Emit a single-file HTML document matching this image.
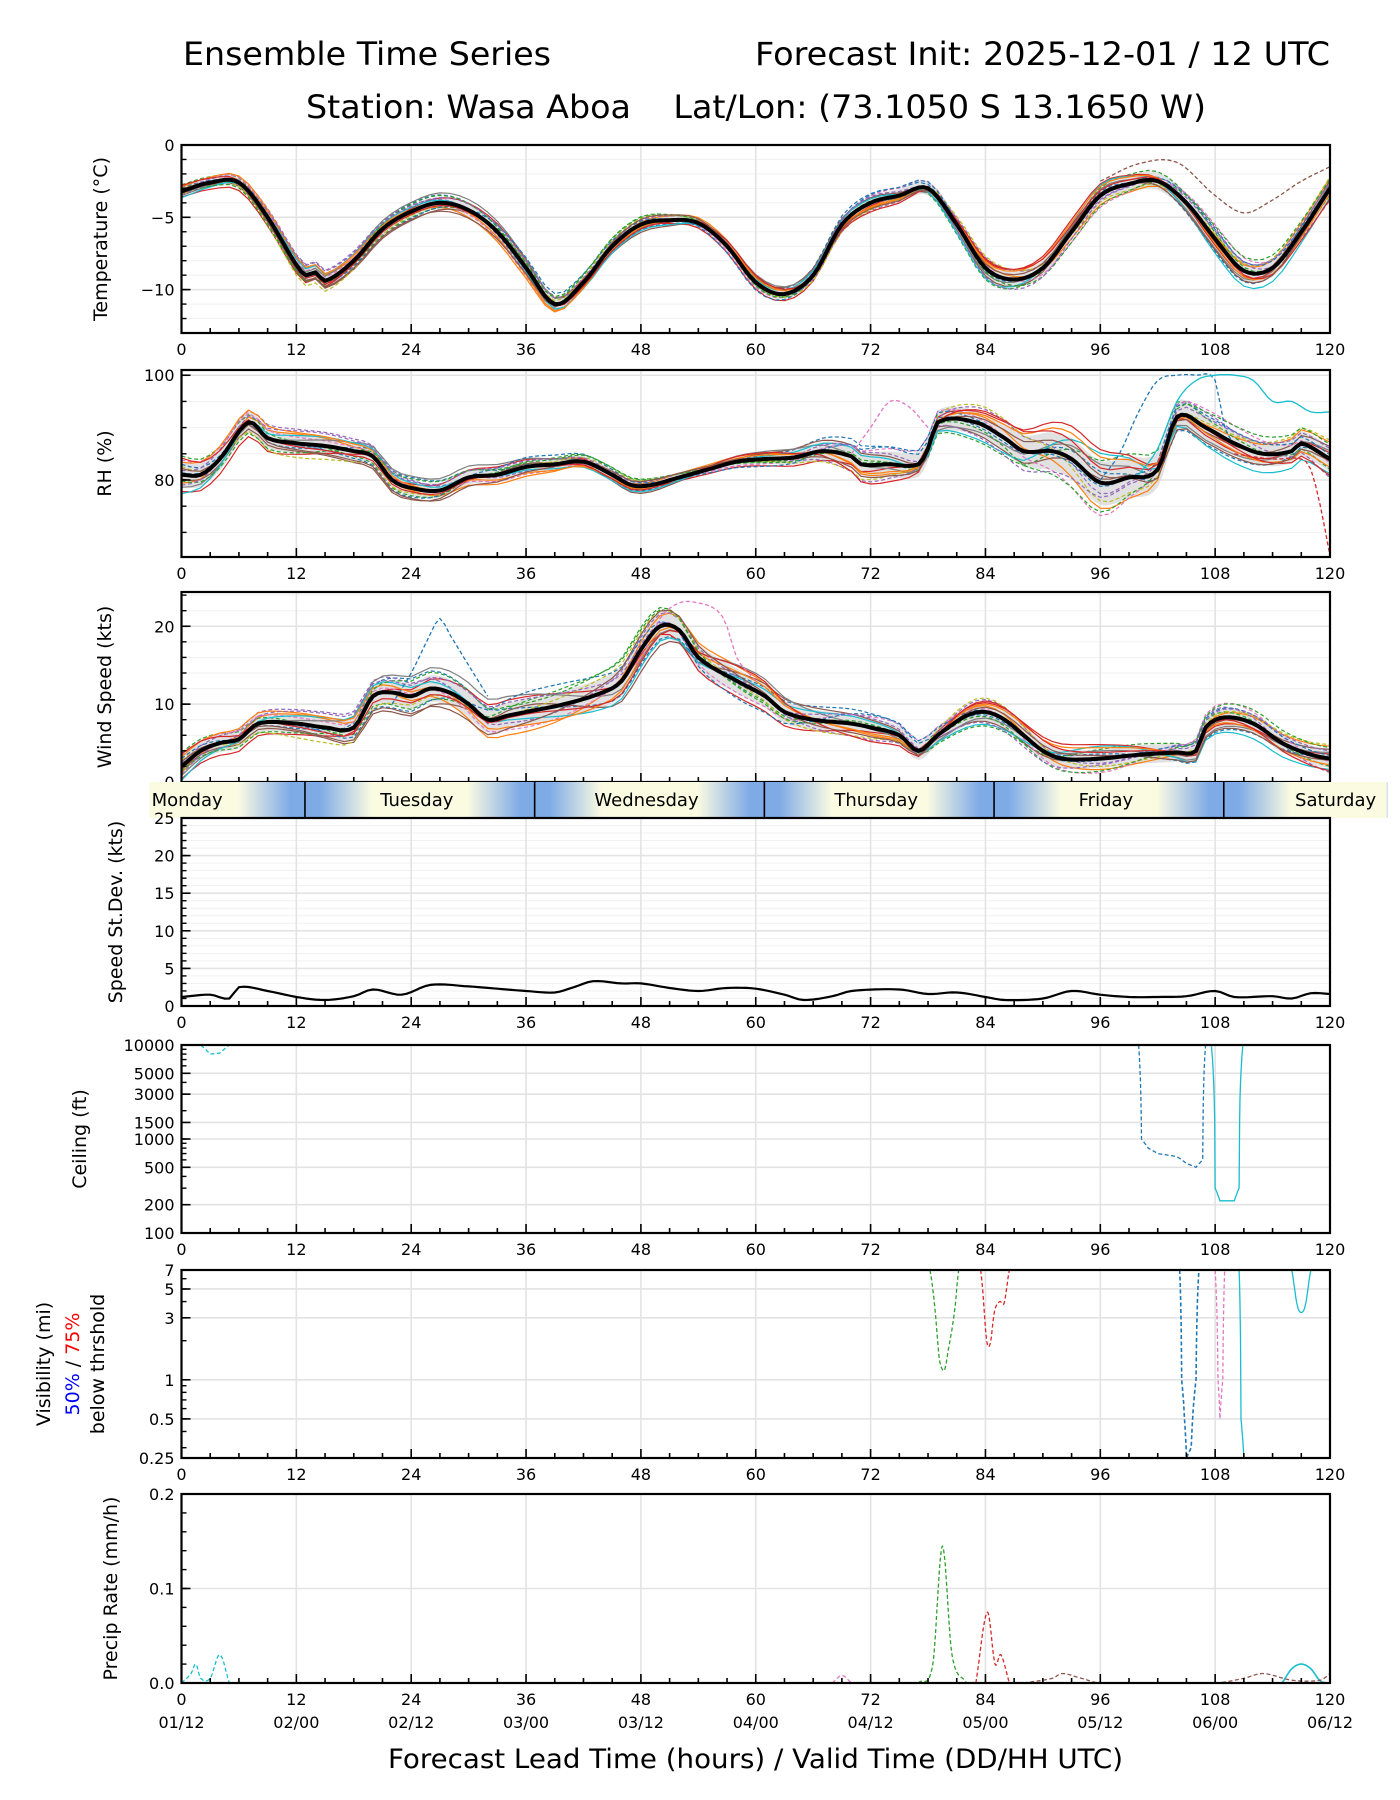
<!DOCTYPE html>
<html><head><meta charset="utf-8">
<style>
html,body{margin:0;padding:0;background:#fff;}
svg{display:block;font-family:"DejaVu Sans","Liberation Sans",sans-serif;}
</style></head>
<body>
<svg id="chart" width="1400" height="1800" viewBox="0 0 1400 1800" xmlns="http://www.w3.org/2000/svg">
<rect x="0" y="0" width="1400" height="1800" fill="#fff"/>
<text x="183" y="65" font-size="32" textLength="368" lengthAdjust="spacingAndGlyphs">Ensemble Time Series</text>
<text x="1330" y="65" font-size="32" text-anchor="end" textLength="575" lengthAdjust="spacingAndGlyphs">Forecast Init: 2025-12-01 / 12 UTC</text>
<text x="306" y="118" font-size="32" textLength="900" lengthAdjust="spacingAndGlyphs" xml:space="preserve">Station: Wasa Aboa    Lat/Lon: (73.1050 S 13.1650 W)</text>
<text x="388" y="1768" font-size="27" textLength="735" lengthAdjust="spacingAndGlyphs">Forecast Lead Time (hours) / Valid Time (DD/HH UTC)</text>
<g id="plots"></g>
</svg>
<script>
const NS="http://www.w3.org/2000/svg";
const X0=181.5, X1=1330;
const COLORS=["#1f77b4","#ff7f0e","#2ca02c","#d62728","#9467bd","#8c564b","#e377c2","#7f7f7f","#bcbd22","#17becf"];
const xTickHours=[0,12,24,36,48,60,72,84,96,108,120];
const dateLabels=["01/12","02/00","02/12","03/00","03/12","04/00","04/12","05/00","05/12","06/00","06/12"];
const knotHours=[0,12,24,36,48,60,72,84,96,108,120];
const tempHours=[0,3,6,9,12,13,14,15,18,21,24,27,30,33,36,39,42,45,48,51,54,57,60,63,66,69,72,75,78,81,84,87,90,93,96,99,102,105,108,111,114,117,120];
const tempMean=[-3.2,-2.6,-2.6,-5,-8.3,-9,-8.8,-9.4,-8,-5.8,-4.6,-4.0,-4.5,-6,-8.5,-11,-9.5,-7,-5.5,-5.2,-5.4,-7,-9.5,-10.3,-9,-5.5,-4,-3.5,-3,-5.5,-8.5,-9.3,-8.5,-6,-3.5,-2.7,-2.5,-4,-6.5,-8.7,-8.5,-6,-3];
const tempSpread=[0.5,0.8,0.7,0.8,0.6,0.6,0.7,0.9,0.9,1.1,0.9];
const rhHours=[0,2,4,7,9,12,15,18,20,22,24,27,30,33,36,39,42,45,47,49,52,55,58,61,64,67,70,71,74,77,78,79,83,86,88,91,93,96,99,102,104,107,110,113,116,117,120];
const rhMean=[81,81,84,91,88,87,86.5,85.5,84.5,80,78.5,78,80.5,81,82.5,83,83.5,81,79,79,80.5,82,83.5,84,84.3,85.5,84.5,83,83,83,86,91,91,88,85.5,85.5,84,79.5,80.5,82,92,90,87,85,85.5,87,84];
const rhSpread=[4,3,2.5,2,1.5,1.5,4,4,7,4,4];
const windHours=[0,2,4,6,8,12,15,18,20,22,24,26,28,30,32,34,36,40,44,46,48,50,52,54,58,61,63,66,70,72,75,77,79,82,84,86,88,90,92,96,100,104,106,107,109,112,115,118,120];
const windMean=[2,4,5,5.5,7.5,7.5,7,7,11,11.5,11,12,11.5,10,8,8.5,9,10,11.5,13,17,20,19.5,16,13,11,9,8,7.5,7,6,4,6,8.5,9,8,6,4,3,3,3.5,3.8,4,7,8.3,7.5,5,3.5,3];
const windSpread=[2,2,2.8,2.8,3.2,2.5,2,2,2,2,2];
const sdHours=[0,3,5,6,9,12,15,18,20,23,26,30,33,36,39,41,43,46,48,51,54,57,60,63,65,68,70,75,78,81,84,86,90,93,96,99,102,105,108,110,114,116,118,120];
const sdVals=[1.2,1.5,1,2.5,2,1.2,0.8,1.3,2.2,1.5,2.8,2.6,2.3,2.0,1.8,2.5,3.3,3.0,3.0,2.4,2.0,2.4,2.3,1.5,0.8,1.3,2.0,2.2,1.6,1.8,1.2,0.8,1.0,2.0,1.5,1.2,1.2,1.3,2.0,1.2,1.3,1.0,1.7,1.6];
const memberShapes=[
[0.5,-0.3,0.8,0.2,-0.6,0.4,0.9,-0.2,0.3,-0.8,0.1],
[-0.4,0.6,-0.2,-0.9,0.3,0.7,-0.5,0.4,-0.7,0.2,0.8],
[0.9,0.1,-0.6,0.5,0.8,-0.3,0.2,-0.9,0.6,0.4,-0.5],
[-0.8,-0.7,0.3,0.7,-0.2,-0.8,-0.3,0.6,0.9,-0.4,0.3],
[0.2,0.9,0.6,-0.4,0.5,0.1,-0.8,0.8,-0.3,0.7,-0.9],
[-0.2,-0.5,-0.9,0.3,-0.9,0.6,0.5,-0.6,0.1,-0.2,0.6],
[0.7,0.4,0.1,-0.7,0.1,-0.6,0.7,0.2,-0.9,0.9,-0.2],
[-0.6,0.2,0.9,0.8,-0.4,0.9,-0.1,-0.4,0.5,-0.6,0.4],
[0.4,-0.9,-0.4,0.1,0.7,-0.2,-0.7,0.9,-0.5,0.3,0.9],
[-0.9,0.5,0.4,-0.3,-0.7,0.3,0.4,-0.8,0.8,-0.9,-0.7],
[0.1,-0.1,-0.7,0.9,0.4,-0.9,0.8,0.1,-0.1,0.6,0.2],
[0.6,0.7,0.2,-0.6,-0.3,0.5,-0.4,0.5,0.7,-0.3,-0.4],
[-0.3,-0.6,0.7,0.4,0.9,-0.4,0.1,-0.3,-0.8,0.8,0.7],
[0.8,-0.2,-0.3,-0.1,-0.5,0.8,-0.9,0.7,0.4,-0.1,-0.8],
[-0.5,0.8,0.5,0.6,0.2,-0.1,0.6,-0.7,-0.4,0.5,0.5],
[0.3,-0.4,-0.8,-0.5,0.6,0.2,-0.6,0.3,0.2,-0.7,-0.1]];
const tempOutHours=[96,100,104,108,111,114,117,120];
const tempOutVals=[-2.5,-1.3,-1.2,-3.5,-4.7,-3.8,-2.5,-1.5];
const rhBlueHours=[96,98,100,102,104,106,108,109,110];
const rhBlueVals=[80,85,93,99,100,100,99,90,87];
const rhCyanHours=[100,102,104,106,108,110,112,114,116,118,120];
const rhCyanVals=[81,86,95,99,100,100,99,95,95,93,93];
const rhRedHours=[110,114,117,118,119,120];
const rhRedVals=[85,84,84,82,75,65.5];
const rhPinkHours=[70,72,74,76,78];
const rhPinkVals=[85,90,95,94,90];
const windBlueHours=[22,24,26,27,28,30,32];
const windBlueVals=[10,14,19,21,19,15,11];
const windPinkHours=[44,48,50,52,54,56,57,58,60];
const windPinkVals=[11,16,21,23,23,22,20,16,13];
const ceilCyanDHours=[0,2,3,4,5];
const ceilCyanDVals=[10000,10000,8000,8200,10000];
const ceilBlueHours=[100,100.3,101,102,104,105,106,106.7,107];
const ceilBlueVals=[10000,1000,800,700,650,550,500,600,10000];
const ceilCyanHours=[107.6,108,108.5,110,110.5,110.9];
const ceilCyanVals=[10000,300,220,220,300,10000];
const visGreenHours=[78.2,79,79.5,80,80.8,81.2];
const visGreenVals=[7,2,1.2,1.5,3.5,7];
const visRedHours=[83.5,84,84.5,85,85.5,86,86.5];
const visRedVals=[7,2.5,1.9,3.5,4,4,7];
const visBlueHours=[104.3,104.5,104.8,105,105.5,106,106.3];
const visBlueVals=[7,1,0.5,0.25,0.3,1,7];
const visPinkHours=[108,108.3,108.5,108.8,109];
const visPinkVals=[7,1,0.5,1,7];
const visCyanHours=[110.5,110.7,111];
const visCyanVals=[7,0.5,0.25];
const visCyan2Hours=[116,116.5,117,117.5,118];
const visCyan2Vals=[7,4,3.3,4,7];
const prGreenHours=[77,78.5,79.5,80.5,82];
const prGreenVals=[0,0.02,0.145,0.03,0];
const prRedHours=[83,84.2,85,85.6,86.5];
const prRedVals=[0,0.075,0.02,0.03,0];
const prCyanDHours=[0,1,1.5,2,3,4,5];
const prCyanDVals=[0,0.01,0.02,0.005,0.005,0.03,0];
const prCyanHours=[115,116,117,118,119,120];
const prCyanVals=[0,0.015,0.02,0.015,0.002,0];
const prBrownHours=[88,91,92,94,96,108,111,113,116,119,120];
const prBrownVals=[0,0.005,0.01,0.005,0,0,0.005,0.01,0.003,0.003,0.01];
const prPinkHours=[68,69,70];
const prPinkVals=[0,0.008,0];
const dayNames=["Monday","Tuesday","Wednesday","Thursday","Friday","Saturday"];

const g=document.getElementById('plots');
function el(tag,attrs,parent){const e=document.createElementNS(NS,tag);for(const k in attrs)e.setAttribute(k,attrs[k]);(parent||g).appendChild(e);return e;}
function xs(h){return X0+(h/120)*(X1-X0);}
function interp(hs,vs,h){if(h<=hs[0])return vs[0];for(let i=1;i<hs.length;i++){if(h<=hs[i]){const t=(h-hs[i-1])/(hs[i]-hs[i-1]);return vs[i-1]+t*(vs[i]-vs[i-1]);}}return vs[vs.length-1];}
function sinterp(hs,vs,h){const n=hs.length;if(h<=hs[0])return vs[0];if(h>=hs[n-1])return vs[n-1];
  let i=1;while(h>hs[i])i++;const h0=hs[i-1],h1=hs[i],p1=vs[i-1],p2=vs[i];const dh=h1-h0;const t=(h-h0)/dh;
  const m1=i-2>=0?(p2-vs[i-2])/(h1-hs[i-2])*dh:(p2-p1);const m2=i+1<n?(vs[i+1]-p1)/(hs[i+1]-h0)*dh:(p2-p1);
  const t2=t*t,t3=t2*t;return (2*t3-3*t2+1)*p1+(t3-2*t2+t)*m1+(-2*t3+3*t2)*p2+(t3-t2)*m2;}
function lin(min,max,top,bot){return v=>bot-(v-min)/(max-min)*(bot-top);}
function logs(min,max,top,bot){return v=>bot-(Math.log10(v)-Math.log10(min))/(Math.log10(max)-Math.log10(min))*(bot-top);}

function axes(name,top,bot,ys,majors,majorLabels,minors,gridMinor,label,dates){
  const ga=el('g',{});
  
  
  (gridMinor||[]).forEach(v=>{const y=ys(v);el('line',{x1:X0,x2:X1,y1:y,y2:y,stroke:'#f1f1f1','stroke-width':1},ga);});
  majors.forEach(v=>{const y=ys(v);el('line',{x1:X0,x2:X1,y1:y,y2:y,stroke:'#e3e3e3','stroke-width':1.6},ga);});
  xTickHours.forEach(h=>{el('line',{x1:xs(h),x2:xs(h),y1:top,y2:bot,stroke:'#e3e3e3','stroke-width':1.6},ga);});
  return function finish(){
    const gf=el('g',{});
    
    
    for(let h=0;h<=120;h+=3){const L=h%12===0?9:5;el('line',{x1:xs(h),x2:xs(h),y1:bot,y2:bot-L,stroke:'#000','stroke-width':1.6},gf);}
    (minors||[]).forEach(v=>{const y=ys(v);el('line',{x1:X0,x2:X0+5,y1:y,y2:y,stroke:'#000','stroke-width':1.4},gf);});
    majors.forEach((v,i)=>{const y=ys(v);el('line',{x1:X0,x2:X0+9,y1:y,y2:y,stroke:'#000','stroke-width':1.6},gf);
      const t=el('text',{x:X0-7,y:y+6,'font-size':16,'text-anchor':'end'},gf);t.textContent=majorLabels[i];});
    el('rect',{x:X0,y:top,width:X1-X0,height:bot-top,fill:'none',stroke:'#000','stroke-width':2.2},gf);
    xTickHours.forEach((h,i)=>{const t=el('text',{x:xs(h),y:bot+22,'font-size':16,'text-anchor':'middle'},gf);t.textContent=h;
      if(dates){const d=el('text',{x:xs(h),y:bot+45,'font-size':16,'text-anchor':'middle'},gf);d.textContent=dateLabels[i];}});
    if(label){label.forEach(([txt,x])=>{const cy=(top+bot)/2;const t=el('text',{x:x,y:cy,'font-size':19,'text-anchor':'middle',transform:`rotate(-90 ${x} ${cy})`},gf);
      if(Array.isArray(txt)){txt.forEach(([s,c])=>{const sp=el('tspan',{fill:c},t);sp.textContent=s;});}else t.textContent=txt;});}
  };
}
function clipFor(id,top,bot){const cp=el('clipPath',{id:id});el('rect',{x:X0,y:top,width:X1-X0,height:bot-top},cp);return `url(#${id})`;}
function trace(parent,name,hs,vs,ys,color,dashed,width,step,smooth){
  const f=smooth?sinterp:interp;
  const pts=[];const h0=hs[0],h1=hs[hs.length-1];step=step||0.5;
  for(let h=h0;h<=h1+1e-9;h+=step)pts.push(xs(h).toFixed(1)+','+ys(f(hs,vs,h)).toFixed(1));
  const p=el('polyline',{points:pts.join(' '),fill:'none',stroke:color,'stroke-width':width||1.3,'stroke-dasharray':dashed?'4 2.5':'none','stroke-linejoin':'round'},parent);
  
  
  return p;
}
function ensemblePanel(name,top,bot,ys,hs,mean,spread){
  const cg=el('g',{'clip-path':clipFor(name+'-clip',top,bot)});
  
  
  const up=[],dn=[];
  for(let h=0;h<=120;h+=0.5){const m=sinterp(hs,mean,h),s=sinterp(knotHours,spread,h)*0.6;up.push(xs(h).toFixed(1)+','+ys(m+s).toFixed(1));dn.unshift(xs(h).toFixed(1)+','+ys(m-s).toFixed(1));}
  const band=el('polygon',{points:up.concat(dn).join(' '),fill:'#d9d9d9','fill-opacity':0.8},cg);
  
  
  memberShapes.forEach((shape,m)=>{
    const mh=[],mv=[];
    for(let h=0;h<=120;h+=1){mh.push(h);mv.push(sinterp(hs,mean,h)+sinterp(knotHours,spread,h)*sinterp(knotHours,shape,h));}
    trace(cg,name+'-member-'+(m+1),mh,mv,ys,COLORS[m%10],m%2===0,1.2,1);
  });
  return cg;
}
function drawMean(cg,name,hs,vs,ys){trace(cg,name+'-mean-line',hs,vs,ys,'#000',false,4,0.5,true);}

(function(){const top=145,bot=333;const ys=lin(-13,0,top,bot);
  const minors=[];for(let v=-13;v<=0;v++)minors.push(v);
  const fin=axes('temperature',top,bot,ys,[0,-5,-10],['0','\u22125','\u221210'],minors,minors,[['Temperature (\u00b0C)',107]]);
  const cg=ensemblePanel('temperature',top,bot,ys,tempHours,tempMean,tempSpread);
  trace(cg,'temperature-outlier-member',tempOutHours,tempOutVals,ys,'#8c564b',true,1.3,0.5,true);
  drawMean(cg,'temperature',tempHours,tempMean,ys);fin();})();
(function(){const top=370,bot=557;const ys=lin(65.3,101,top,bot);
  const minors=[70,75,80,85,90,95,100];
  const fin=axes('rh',top,bot,ys,[80,100],['80','100'],minors,minors,[['RH (%)',111]]);
  const cg=ensemblePanel('rh',top,bot,ys,rhHours,rhMean,rhSpread);
  trace(cg,'rh-outlier-blue',rhBlueHours,rhBlueVals,ys,'#1f77b4',true,1.3,0.5,true);
  trace(cg,'rh-outlier-cyan',rhCyanHours,rhCyanVals,ys,'#17becf',false,1.3,0.5,true);
  trace(cg,'rh-outlier-red',rhRedHours,rhRedVals,ys,'#d62728',true,1.3,0.5,true);
  trace(cg,'rh-outlier-pink',rhPinkHours,rhPinkVals,ys,'#e377c2',true,1.3,0.5,true);
  drawMean(cg,'rh',rhHours,rhMean,ys);fin();})();
(function(){const top=592,bot=782;const ys=lin(0,24.4,top,bot);
  const minors=[];for(let v=0;v<=24;v+=2)minors.push(v);
  const fin=axes('wind-speed',top,bot,ys,[0,10,20],['0','10','20'],minors,minors,[['Wind Speed (kts)',111]]);
  const cg=ensemblePanel('wind-speed',top,bot,ys,windHours,windMean,windSpread);
  trace(cg,'wind-outlier-blue',windBlueHours,windBlueVals,ys,'#1f77b4',true,1.3,0.5,true);
  trace(cg,'wind-outlier-pink',windPinkHours,windPinkVals,ys,'#e377c2',true,1.3,0.5,true);
  drawMean(cg,'wind-speed',windHours,windMean,ys);fin();})();
(function(){const top=782,bot=818;
  const defs=el('defs',{});const lg=el('linearGradient',{id:'dayGrad',gradientUnits:'userSpaceOnUse',x1:xs(-3.4),x2:xs(126),y1:0,y2:0},defs);
  const span=129.4;const stops=[];
  for(let k=-1;k<=6;k++){const noon=0.9+24*k,mid=12.9+24*k;
    [[noon-5,'#fbfbe2'],[noon+5,'#fbfbe2'],[mid-1.5,'#7eaae6'],[mid+1.5,'#7eaae6']].forEach(s=>stops.push(s));}
  stops.sort((a,b)=>a[0]-b[0]).forEach(([h,c])=>{const o=(h+3.4)/span;if(o>=-0.2&&o<=1.2)el('stop',{offset:Math.max(0,Math.min(1,o)),'stop-color':c},lg);});
  const bg=el('g',{});
  el('rect',{x:xs(-3.4),y:top,width:xs(126)-xs(-3.4),height:bot-top,fill:'url(#dayGrad)'},bg);
  for(let k=0;k<5;k++){const x=xs(12.9+24*k);el('line',{x1:x,x2:x,y1:top,y2:bot,stroke:'#000','stroke-width':1.6},bg);}
  dayNames.forEach((d,i)=>{const t=el('text',{x:xs(0.9+24*i)-3,y:top+24,'font-size':18,'text-anchor':'middle'},bg);t.textContent=d;
    });
})();
(function(){const top=818,bot=1006;const ys=lin(0,25,top,bot);
  const minors=[];for(let v=0;v<=25;v++)minors.push(v);
  const fin=axes('speed-stddev',top,bot,ys,[0,5,10,15,20,25],['0','5','10','15','20','25'],minors,minors,[['Speed St.Dev. (kts)',122]]);
  const cg=el('g',{'clip-path':clipFor('sd-clip',top,bot)});
  trace(cg,'speed-stddev-line',sdHours,sdVals,ys,'#000',false,2.2,0.5,true);fin();})();
(function(){const top=1045,bot=1233;const ys=logs(100,10000,top,bot);
  const maj=[100,200,500,1000,1500,3000,5000,10000];
  const minors=[100,200,300,400,500,600,700,800,900,1000,2000,3000,4000,5000,6000,7000,8000,9000,10000];
  const fin=axes('ceiling',top,bot,ys,maj,maj.map(String),minors,[],[['Ceiling (ft)',86]]);
  const cg=el('g',{'clip-path':clipFor('ceil-clip',top-2,bot)});
  trace(cg,'ceiling-cyan-dashed',ceilCyanDHours,ceilCyanDVals,ys,'#17becf',true,1.3,0.1);
  trace(cg,'ceiling-blue-dashed',ceilBlueHours,ceilBlueVals,ys,'#1f77b4',true,1.3,0.05);
  trace(cg,'ceiling-cyan-solid',ceilCyanHours,ceilCyanVals,ys,'#17becf',false,1.3,0.05);fin();})();
(function(){const top=1270,bot=1458;const ys=logs(0.25,7,top,bot);
  const maj=[0.25,0.5,1,3,5,7];
  const minors=[0.25,0.3,0.4,0.5,0.6,0.7,0.8,0.9,1,2,3,4,5,6,7];
  const fin=axes('visibility',top,bot,ys,maj,['0.25','0.5','1','3','5','7'],minors,[],[['Visibility (mi)',50],[[['50%','#0000ff'],[' / ','#000'],['75%','#ff0000']],79],['below thrshold',104]]);
  const cg=el('g',{'clip-path':clipFor('vis-clip',top,bot)});
  trace(cg,'vis-green',visGreenHours,visGreenVals,ys,'#2ca02c',true,1.3,0.05,true);
  trace(cg,'vis-red',visRedHours,visRedVals,ys,'#d62728',true,1.3,0.05,true);
  trace(cg,'vis-blue',visBlueHours,visBlueVals,ys,'#1f77b4',true,1.6,0.05);
  trace(cg,'vis-pink',visPinkHours,visPinkVals,ys,'#e377c2',true,1.3,0.05);
  trace(cg,'vis-cyan',visCyanHours,visCyanVals,ys,'#17becf',false,1.3,0.05);
  trace(cg,'vis-cyan-2',visCyan2Hours,visCyan2Vals,ys,'#17becf',false,1.3,0.05,true);fin();})();
(function(){const top=1494,bot=1683;const ys=lin(0,0.2,top,bot);
  const minors=[];for(let v=0;v<=0.2001;v+=0.02)minors.push(+v.toFixed(2));
  const fin=axes('precip',top,bot,ys,[0,0.1,0.2],['0.0','0.1','0.2'],minors,[],[['Precip Rate (mm/h)',117]],true);
  const cg=el('g',{'clip-path':clipFor('pr-clip',top,bot)});
  trace(cg,'precip-green',prGreenHours,prGreenVals,ys,'#2ca02c',true,1.3,0.1,true);
  trace(cg,'precip-red',prRedHours,prRedVals,ys,'#d62728',true,1.3,0.1,true);
  trace(cg,'precip-cyan-dashed',prCyanDHours,prCyanDVals,ys,'#17becf',true,1.3,0.1,true);
  trace(cg,'precip-cyan',prCyanHours,prCyanVals,ys,'#17becf',false,1.6,0.1,true);
  trace(cg,'precip-brown',prBrownHours,prBrownVals,ys,'#8c564b',true,1.3,0.1,true);
  trace(cg,'precip-pink',prPinkHours,prPinkVals,ys,'#e377c2',true,1.3,0.1,true);fin();})();
</script>
</body></html>
